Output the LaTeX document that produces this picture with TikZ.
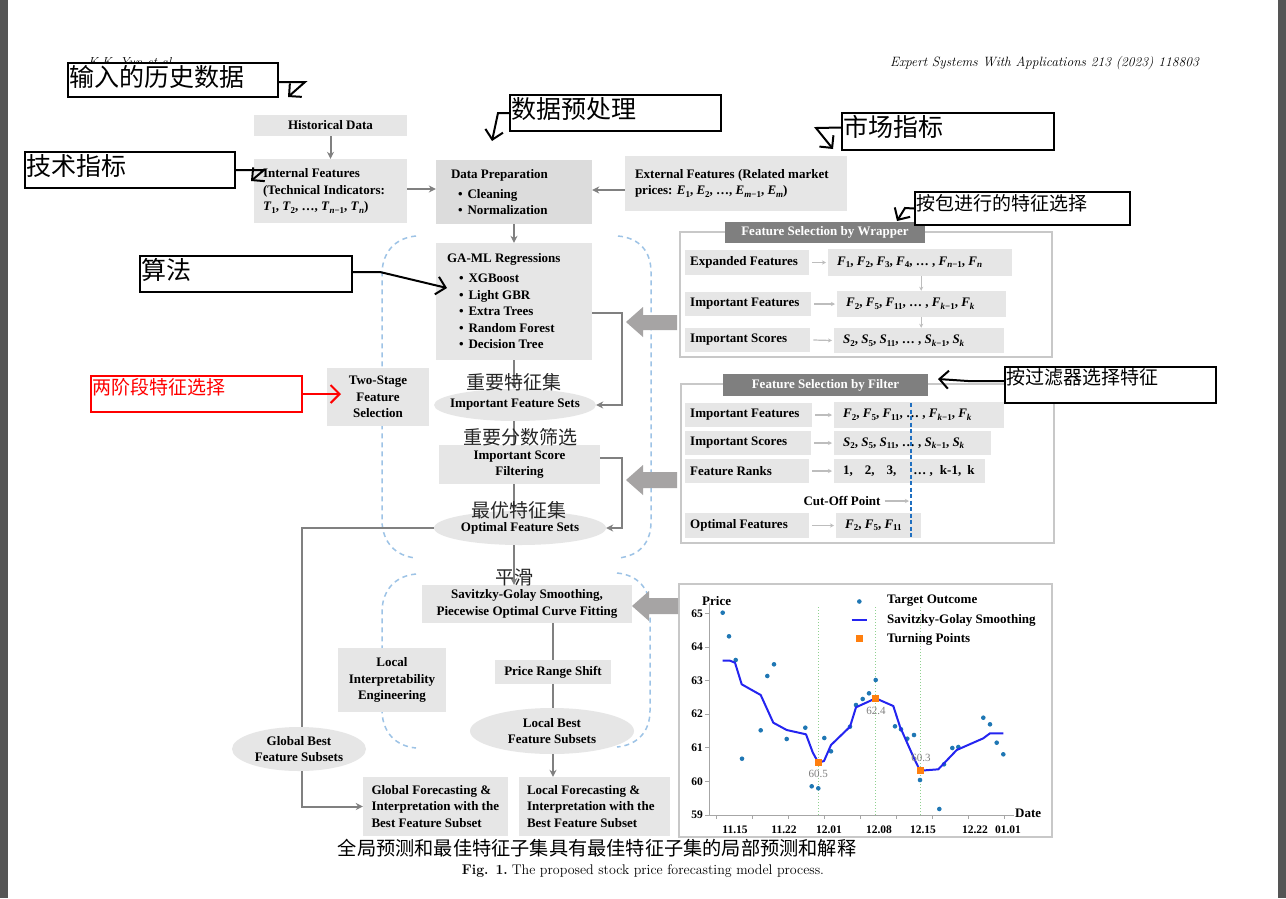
\documentclass[tikz,border=0pt]{standalone}
\usepackage{fontspec}
\newfontfamily\tnr{Liberation Serif}
\newfontfamily\cjk{Noto Sans CJK SC}
\usetikzlibrary{arrows.meta,shapes.geometric}
\definecolor{boxg}{HTML}{E6E6E6}
\definecolor{boxd}{HTML}{DCDCDC}
\definecolor{lineg}{HTML}{808080}
\definecolor{bigar}{HTML}{A6A4A4}
\definecolor{hdr}{HTML}{7F7F7F}
\definecolor{panel}{HTML}{C8C8C8}
\definecolor{dashb}{HTML}{9DC3E6}
\definecolor{cutb}{HTML}{1F6FC0}
\definecolor{sideg}{HTML}{555555}
\definecolor{sgblue}{HTML}{2424F0}
\definecolor{dotb}{HTML}{1F77B4}
\definecolor{tporg}{HTML}{FF7F0E}
\definecolor{vgreen}{HTML}{8FD18F}
\definecolor{small}{HTML}{BDBDBD}
\newcommand\fb{\tnr\fontsize{13}{16.5}\selectfont\bfseries}
\newcommand\ftick{\tnr\fontsize{11.5}{13}\selectfont\bfseries}
\newcommand\fbig{\cjk\fontsize{25}{29}\selectfont}
\newcommand\fsmall{\cjk\fontsize{19}{22}\selectfont}
\newcommand\sbx[1]{\raisebox{-2.5pt}{\fontsize{9}{9}\selectfont #1}}
\newcommand\vv[2]{\textit{#1}\sbx{#2}}
\newcommand\lb[2]{\makebox[#1][l]{#2}}
\newcommand\itm[2]{\hspace*{#1}•\hspace{5pt}#2}
\begin{document}
\begin{tikzpicture}[x=1pt,y=-1pt,
  box/.style={fill=boxg, inner sep=0pt, font=\fb, align=center},
  ell/.style={ellipse, fill=boxg, inner sep=0pt},
  conn/.style={draw=lineg, line width=2pt, -{Stealth[length=7pt,width=7pt]}},
  plainc/.style={draw=lineg, line width=2pt},
  sarr/.style={draw=small, line width=1.2pt, -{Stealth[length=4pt,width=4pt]}},
  lbox/.style={fill=boxg, inner xsep=5pt, inner ysep=0pt, font=\fb, anchor=west},
  vbox/.style={fill=boxg, inner xsep=9pt, inner ysep=0pt, font=\fb, anchor=west},
  hdrbox/.style={fill=hdr, text=white, inner sep=0pt, font=\fb},
  pnl/.style={draw=panel, line width=2pt, inner sep=0pt},
  annbox/.style={draw=black, line width=2pt, fill=white, inner sep=0pt},
  ann/.style={draw=black, line width=2pt, line join=miter, -{Straight Barb[length=9pt,width=18pt,line width=2pt]}},
  anntxt/.style={anchor=north west, inner sep=0pt},
  zh/.style={font=\fsmall, text=black!85, inner sep=0pt},
  dsh/.style={draw=dashb, line width=1.5pt, dash pattern=on 5pt off 4pt}
]
\useasboundingbox (0,0) rectangle (1286,898);
\fill[white] (0,0) rectangle (1286,898);
\fill[sideg] (0,0) rectangle (8,898);
\fill[sideg] (1278,0) rectangle (1286,898);

% running heads
\node[anchor=base west, inner sep=0pt, font=\fontsize{13}{15}\selectfont\itshape] (rhl) at (88,66) {K.K. Yun et al.};
\node[anchor=base east, inner sep=0pt, font=\fontsize{13.5}{15}\selectfont\itshape] (rhr) at (1199,66) {Expert Systems With Applications 213 (2023) 118803};

% dashed brackets
\draw[dsh] (416,236) .. controls (395,238) and (383,252) .. (382,272) -- (382,522) .. controls (383,542) and (395,556) .. (416,558);
\draw[dsh] (618,236) .. controls (640,238) and (651,252) .. (651,272) -- (651,522) .. controls (651,542) and (640,556) .. (618,558);
\draw[dsh] (416,574) .. controls (395,576) and (383,590) .. (382,610) -- (382,712) .. controls (383,732) and (395,746) .. (416,748);
\draw[dsh] (617,573) .. controls (638,575) and (650,589) .. (650,609) -- (650,711) .. controls (650,731) and (638,745) .. (617,747);

% top boxes
\node[box, minimum width=153pt, minimum height=21pt] (hist) at (330.5,125.5) {Historical Data};
\node[box, minimum width=153pt, minimum height=64pt] (internal) at (330.5,191) {\lb{135pt}{Internal Features}\\\lb{135pt}{(Technical Indicators:}\\\lb{135pt}{\vv{T}{1}, \vv{T}{2}, …, \vv{T}{\textit{n}−1}, \vv{T}{\textit{n}})}};
\node[box, fill=boxd, minimum width=156pt, minimum height=64pt] (prep) at (514,192) {\lb{130pt}{\hspace*{2pt}Data Preparation}\\[3.5pt]\lb{130pt}{\itm{9pt}{Cleaning}}\\\lb{130pt}{\itm{9pt}{Normalization}}};
\node[box, minimum width=222pt, minimum height=55pt] (ext) at (736,183.5) {\lb{202pt}{External Features (Related market}\\\lb{202pt}{prices: \vv{E}{1}, \vv{E}{2}, …, \vv{E}{\textit{m}−1}, \vv{E}{\textit{m}})}};
\node[box, minimum width=156pt, minimum height=117pt] (gaml) at (514,301.5) {\lb{138pt}{\hspace*{2pt}GA-ML Regressions}\\[3.5pt]\lb{138pt}{\itm{14pt}{XGBoost}}\\\lb{138pt}{\itm{14pt}{Light GBR}}\\\lb{138pt}{\itm{14pt}{Extra Trees}}\\\lb{138pt}{\itm{14pt}{Random Forest}}\\\lb{138pt}{\itm{14pt}{Decision Tree}}};
\node[ell, minimum width=162pt, minimum height=32pt, label={[font=\fb]center:Important Feature Sets}] (ifs) at (515,405) {};
\node[box, minimum width=161pt, minimum height=39pt] (isf) at (519.5,464.5) {Important Score\\Filtering};
\node[box, minimum width=102pt, minimum height=58pt] (two) at (378,397) {Two-Stage\\Feature\\Selection};

% connectors upper
\draw[conn] (hist) -- (internal);
\draw[conn] ([yshift=2pt]internal.east) -- ([yshift=2pt]internal.east -| prep.west);
\draw[conn] ([yshift=2pt]ext.west |- prep.east) -- ([yshift=2pt]prep.east);
\draw[conn] (prep) -- (gaml);
\draw[conn] (gaml.south) -- (gaml.south |- ifs.north);
\draw[conn] ([yshift=-11pt]gaml.east) -- ++(30,0) |- (ifs.east);
\draw[plainc] (ifs.south -| gaml.south) -- (gaml.south |- isf.north);

% lower nodes
\node[ell, minimum width=172pt, minimum height=34pt, label={[font=\fb]center:Optimal Feature Sets}] (ofs) at (520,528) {};
\draw[conn] ([yshift=6.5pt]isf.east) -- ++(22,0) |- (ofs.east);
\draw[conn] (isf.south -| gaml.south) -- (gaml.south |- ofs.north);
\node[box, minimum width=210pt, minimum height=38pt] (sg) at (527,604) {Savitzky-Golay Smoothing,\\Piecewise Optimal Curve Fitting};
\draw[conn] (ofs.south -| gaml.south) -- (gaml.south |- sg.north);
\node[box, minimum width=116pt, minimum height=24pt] (prs) at (553,672) {Price Range Shift};
\node[ell, minimum width=164pt, minimum height=46pt, label={[font=\fb, align=center]center:Local Best\\Feature Subsets}] (lbest) at (552,731) {};
\node[box, minimum width=108pt, minimum height=64pt] (lie) at (392,680) {Local\\Interpretability\\Engineering};
\node[box, minimum width=145pt, minimum height=59pt] (gfc) at (435.5,806.5) {\lb{128pt}{Global Forecasting \&}\\\lb{128pt}{Interpretation with the}\\\lb{128pt}{Best Feature Subset}};
\node[box, minimum width=151pt, minimum height=59pt] (lfc) at (594.5,806.5) {\lb{135pt}{Local Forecasting \&}\\\lb{135pt}{Interpretation with the}\\\lb{135pt}{Best Feature Subset}};
\draw[plainc] (sg.south -| prs.north) -- (prs.north);
\draw[plainc] (prs.south) -- (prs.south |- lbest.north);
\draw[conn] (lbest.south -| prs.south) -- (prs.south |- lfc.north);
\draw[conn] (ofs.west) -- ++(-132,0) |- (gfc.west);
\node[ell, minimum width=134pt, minimum height=44pt, label={[font=\fb, align=center]center:Global Best\\Feature Subsets}] (gbest) at (299,749) {};

% chinese labels on flow
\node[zh] (z1) at (514,382) {重要特征集};
\node[zh] (z2) at (520,437) {重要分数筛选};
\node[zh] (z3) at (519,510) {最优特征集};
\node[zh] (z4) at (514,577) {平滑};

% wrapper panel
\node[pnl, minimum width=372pt, minimum height=125pt] (wpan) at (866,294.5) {};
\node[hdrbox, minimum width=200pt, minimum height=21pt] (whdr) at (825,232.5) {Feature Selection by Wrapper};
\node[lbox, minimum height=25pt] (we) at (685,262.5) {\lb{114pt}{Expanded Features}};
\node[vbox, minimum height=27pt] (wev) at (828,262.5) {\lb{166pt}{\vv{F}{1}, \vv{F}{2}, \vv{F}{3}, \vv{F}{4}, … , \vv{F}{\textit{n}−1}, \vv{F}{\textit{n}}}};
\node[lbox, minimum height=24pt] (wi) at (685,304) {\lb{116pt}{Important Features}};
\node[vbox, minimum height=26pt] (wiv) at (837,304) {\lb{151pt}{\vv{F}{2}, \vv{F}{5}, \vv{F}{11}, … , \vv{F}{\textit{k}−1}, \vv{F}{\textit{k}}}};
\node[lbox, minimum height=24pt] (ws) at (685,340) {\lb{115pt}{Important Scores}};
\node[vbox, minimum height=25pt] (wsv) at (834,340.5) {\lb{152pt}{\vv{S}{2}, \vv{S}{5}, \vv{S}{11}, … , \vv{S}{\textit{k}−1}, \vv{S}{\textit{k}}}};
\draw[sarr] ([xshift=3pt]we.east) -- ([xshift=-2pt]wev.west);
\draw[sarr] ([xshift=3pt]wi.east) -- ([xshift=-2pt]wiv.west);
\draw[sarr] ([xshift=3pt]ws.east) -- ([xshift=-2pt]wsv.west);
\draw[sarr] ([xshift=1pt]wev.south) -- ([xshift=1pt]wev.south |- wiv.north);
\draw[sarr] ([xshift=1pt]wev.south |- wiv.south) -- ([xshift=1pt]wev.south |- wsv.north);

% filter panel
\node[pnl, minimum width=373pt, minimum height=159pt] (fpan) at (867.5,463.5) {};
\node[hdrbox, minimum width=205pt, minimum height=22pt] (fhdr) at (825.5,385) {Feature Selection by Filter};
\node[lbox, minimum height=24pt] (fi) at (685,415) {\lb{117pt}{Important Features}};
\node[vbox, minimum height=26pt] (fiv) at (834,415) {\lb{152pt}{\vv{F}{2}, \vv{F}{5}, \vv{F}{11}, … , \vv{F}{\textit{k}−1}, \vv{F}{\textit{k}}}};
\node[lbox, minimum height=24pt] (fs) at (685,443) {\lb{116pt}{Important Scores}};
\node[vbox, minimum height=24pt] (fsv) at (834,443) {\lb{139pt}{\vv{S}{2}, \vv{S}{5}, \vv{S}{11}, … , \vv{S}{\textit{k}−1}, \vv{S}{\textit{k}}}};
\node[lbox, minimum height=24pt] (fr) at (685,471) {\lb{114pt}{Feature Ranks}};
\node[vbox, minimum height=24pt] (frv) at (834,471) {\lb{133pt}{1,\hspace{12pt}2,\hspace{12pt}3,\hspace{17pt}… ,\hspace{7pt}k-1,\hspace{6pt}k}};
\node[font=\fb, inner sep=0pt] (cut) at (842,501) {Cut-Off Point};
\coordinate (cutpt) at (909,501);
\node[lbox, minimum height=25pt] (fo) at (685,525.5) {\lb{114pt}{Optimal Features}};
\node[vbox, minimum height=25pt] (fov) at (836,525.5) {\lb{67pt}{\vv{F}{2}, \vv{F}{5}, \vv{F}{11}}};
\draw[sarr] ([xshift=3pt]fi.east) -- ([xshift=-2pt]fiv.west);
\draw[sarr] ([xshift=3pt]fs.east) -- ([xshift=-2pt]fsv.west);
\draw[sarr] ([xshift=3pt]fr.east) -- ([xshift=-2pt]frv.west);
\draw[sarr] ([xshift=4pt]cut.east) -- (cutpt);
\draw[sarr] ([xshift=3pt]fo.east) -- ([xshift=-2pt]fov.west);
\coordinate (cuttop) at (911,403);
\coordinate (cutbot) at (911,538);
\draw[cutb, line width=1.5pt, dash pattern=on 4pt off 2.5pt] (cuttop) -- (cutbot);

% chart panel
\node[pnl, minimum width=373pt, minimum height=253pt] (cpan) at (865.5,710.5) {};
\draw[gray!70, line width=0.8pt] (709,603) -- (709,815) -- (1014,815);
\foreach \v/\l in {0/59,1/60,2/61,3/62,4/63,5/64,6/65} {
  \draw[gray!70, line width=0.8pt] (705,815-\v*33.6) -- (709,815-\v*33.6);
  \node[font=\ftick, anchor=east, inner sep=0pt] at (703,815-\v*33.6) {\l};
}
\foreach \x/\l in {735/11.15,784/11.22,829/12.01,879/12.08,923/12.15,975/12.22,1008/01.01} {
  \node[font=\ftick, inner sep=0pt] at (\x,830) {\l};
}
\foreach \x in {716,752,788,824,860,896,932,968,1004} \draw[gray!70, line width=0.8pt] (\x,815) -- (\x,819);
\node[font=\fb, anchor=west, inner sep=0pt] (price) at (702,601) {Price};
\node[font=\fb, anchor=west, inner sep=0pt] (date) at (1015,813) {Date};
\foreach \x in {818.3,875.7,920} \draw[vgreen, line width=1pt, dotted] (\x,607) -- (\x,815);
\foreach \x/\y in {722.7/612.7,729/636.3,735.7/660,742/758.7,760.7/730.3,767.3/676,774/664.3,786.7/739,805.3/727.7,811.7/786.3,818.3/788.3,824.3/738,831/751.3,850/726.7,856/705,862.7/699,869/693.3,875.7/680,895/726.3,901/729.3,907.3/738.7,914/735,920/780,939.3/809,944/764.3,952.3/748,958.3/747,983.3/717.7,990/724.3,996.7/742.7,1003.3/754.3}
  \fill[dotb] (\x,\y) circle (2.3pt);
\draw[sgblue, line width=2pt, line join=round] (722.7,660.7) -- (730,660.7) -- (735,662.7) -- (741.7,684.3) -- (760.7,695) -- (773.3,722.7) -- (786.7,730) -- (806,734.3) -- (812.7,752.3) -- (818.3,762.7) -- (824,761) -- (831,745) -- (850,726.7) -- (856,707.3) -- (875.7,698.3) -- (893.3,706) -- (900,726.7) -- (913.3,756.7) -- (920,770.7) -- (938.3,769.3) -- (956.7,750) -- (983.3,738.3) -- (990,733.3) -- (1003.3,733.3);
\foreach \x/\y in {818.3/762.7,875.7/698.3,920/770.7} \fill[tporg] (\x-3.5,\y-3.5) rectangle (\x+3.5,\y+3.5);
\node[font=\tnr\fontsize{11}{12}\selectfont, text=gray, inner sep=0pt] at (818.3,774) {60.5};
\node[font=\tnr\fontsize{11}{12}\selectfont, text=gray, inner sep=0pt] at (876,711) {62.4};
\node[font=\tnr\fontsize{11}{12}\selectfont, text=gray, inner sep=0pt] at (921,758) {60.3};
\fill[dotb] (859.3,601.5) circle (2.3pt);
\draw[sgblue, line width=2pt] (851.5,620) -- (867,620);
\fill[tporg] (855.8,635) rectangle (862.8,642);
\node[font=\fb, anchor=west, inner sep=0pt] at (887,601) {Target Outcome};
\node[font=\fb, anchor=west, inner sep=0pt] at (887,620) {Savitzky-Golay Smoothing};
\node[font=\fb, anchor=west, inner sep=0pt] at (887,639) {Turning Points};

% big block arrows
\fill[bigar] (626,322) -- (643,307) -- (643,315) -- (677,315) -- (677,330) -- (643,330) -- (643,337) -- cycle;
\fill[bigar] (626,480) -- (643,465) -- (643,472) -- (677,472) -- (677,488) -- (643,488) -- (643,495) -- cycle;
\fill[bigar] (632,606) -- (649,591) -- (649,598) -- (678,598) -- (678,614) -- (649,614) -- (649,621) -- cycle;

% bottom texts
\node[font=\cjk\fontsize{19.2}{22}\selectfont, inner sep=0pt] (bzh) at (597,848) {全局预测和最佳特征子集具有最佳特征子集的局部预测和解释};
\node[anchor=base, inner sep=0pt, font=\fontsize{14}{16}\selectfont] (cap) at (643,874) {\textbf{Fig. 1.}\hspace{4pt}The proposed stock price forecasting model process.};

% annotation boxes
\node[annbox, minimum width=210pt, minimum height=34pt] (a1) at (173,80) {};
\node[anntxt, font=\fbig] at ([shift={(2,3)}]a1.north west) {输入的历史数据};
\node[annbox, minimum width=211pt, minimum height=36pt] (a2) at (615.5,113) {};
\node[anntxt, font=\fbig] at ([shift={(2,3)}]a2.north west) {数据预处理};
\node[annbox, minimum width=210pt, minimum height=36pt] (a3) at (130,170) {};
\node[anntxt, font=\fbig] at ([shift={(2,3)}]a3.north west) {技术指标};
\node[annbox, minimum width=212pt, minimum height=36pt] (a4) at (246,274) {};
\node[anntxt, font=\fbig] at ([shift={(2,3)}]a4.north west) {算法};
\node[annbox, minimum width=212pt, minimum height=37pt] (a5) at (948,131.5) {};
\node[anntxt, font=\fbig] at ([shift={(2,3)}]a5.north west) {市场指标};
\node[annbox, minimum width=215pt, minimum height=33pt] (a6) at (1022.5,208.5) {};
\node[anntxt, font=\fsmall] at ([shift={(2,3)}]a6.north west) {按包进行的特征选择};
\node[annbox, minimum width=211pt, minimum height=36pt] (a7) at (1110.5,385) {};
\node[anntxt, font=\fsmall] at ([shift={(2,2)}]a7.north west) {按过滤器选择特征};
\node[annbox, draw=red, minimum width=211pt, minimum height=36pt] (a8) at (196.5,394) {};
\node[anntxt, font=\fsmall, text=red] at ([shift={(2,3)}]a8.north west) {两阶段特征选择};

% annotation arrows
\coordinate (t1) at (288,97);
\coordinate (t2) at (492,141);
\coordinate (t3) at (251,181);
\coordinate (t4) at (447,288);
\coordinate (t5) at (833,149);
\coordinate (t6) at (897,221);
\coordinate (t7) at (938,379);
\coordinate (t8) at (341,394);
\draw[ann] ([yshift=-2pt]a1.east) -- (305,82) -- (t1);
\draw[ann] (a2.west) -- (498,113) -- (t2);
\draw[ann] (a3.east) -- (264,170) -- (t3);
\draw[ann] ([yshift=2pt]a4.east) -- (380,272) -- (t4);
\draw[ann] ([yshift=4pt]a5.west) -- (816,128) -- (t5);
\draw[ann] (a6.west) -- (905,208) -- (t6);
\draw[ann] ([yshift=4pt]a7.west) -- (968,381) -- (t7);
\draw[ann, draw=red] (a8.east) -- (t8);
\end{tikzpicture}
\end{document}
